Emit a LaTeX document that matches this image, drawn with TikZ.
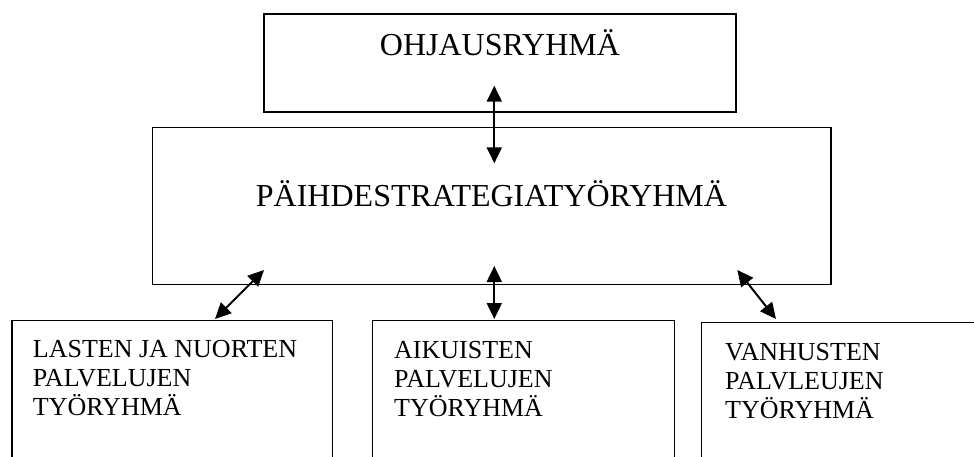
\documentclass[tikz,border=0pt]{standalone}
\usepackage{fontspec}
\setmainfont{Liberation Serif}
\usetikzlibrary{arrows.meta}
\begin{document}
\begin{tikzpicture}[x=1pt,y=-1pt,
  box/.style={draw=black, line width=1.6pt, rectangle, inner sep=0pt},
  bigtext/.style={inner sep=0pt, anchor=base, font=\fontsize{32}{38}\selectfont},
  smalltext/.style={inner sep=0pt, anchor=base west, font=\fontsize{26}{29}\selectfont},
  link/.style={line width=2pt, {Triangle[length=16pt,width=15pt]}-{Triangle[length=16pt,width=15pt]}}]
\useasboundingbox (0,0) rectangle (974,457);
\clip (0,0) rectangle (974,457);
\fill[white] (0,0) rectangle (974,457);
% boxes
\node[box, minimum width=472pt, minimum height=98pt] (ohj) at (500,63) {};
\node[box, minimum width=678.4pt, minimum height=156.8pt] (pai) at (491.5,206.1) {};
\node[box, minimum width=320.8pt, minimum height=149.5pt] (lap) at (172.1,395.25) {};
\node[box, minimum width=302pt, minimum height=149.5pt] (aik) at (523.3,395.25) {};
\node[box, minimum width=278.5pt, minimum height=147.7pt] (van) at (840.75,396.15) {};
% texts
\node[bigtext] (ohjt) at (500,56) {OHJAUSRYHMÄ};
\node[bigtext] (pait) at (491.5,206.7) {PÄIHDESTRATEGIATYÖRYHMÄ};
\node[smalltext] (lapt) at (32.7,357.3) {\parbox[t]{300pt}{\raggedright LASTEN JA NUORTEN\\PALVELUJEN\\TYÖRYHMÄ}};
\node[smalltext] (aikt) at (394,358) {\parbox[t]{270pt}{\raggedright AIKUISTEN\\PALVELUJEN\\TYÖRYHMÄ}};
\node[smalltext] (vant) at (725,360) {\parbox[t]{240pt}{\raggedright VANHUSTEN\\PALVLEUJEN\\TYÖRYHMÄ}};
% arrow ends
\coordinate (a1t) at (494.3,85.7);
\coordinate (a1b) at (494.3,163.3);
\coordinate (a2t) at (494.3,266);
\coordinate (a2b) at (494.3,319);
\coordinate (a3t) at (264,270);
\coordinate (a3b) at (215,319);
\coordinate (a4t) at (737.3,270);
\coordinate (a4b) at (776,319);
% arrows
\draw[link] (a1t) -- (a1b);
\draw[link] (a2t) -- (a2b);
\draw[link] (a3t) -- (a3b);
\draw[link] (a4t) -- (a4b);
\end{tikzpicture}
\end{document}
